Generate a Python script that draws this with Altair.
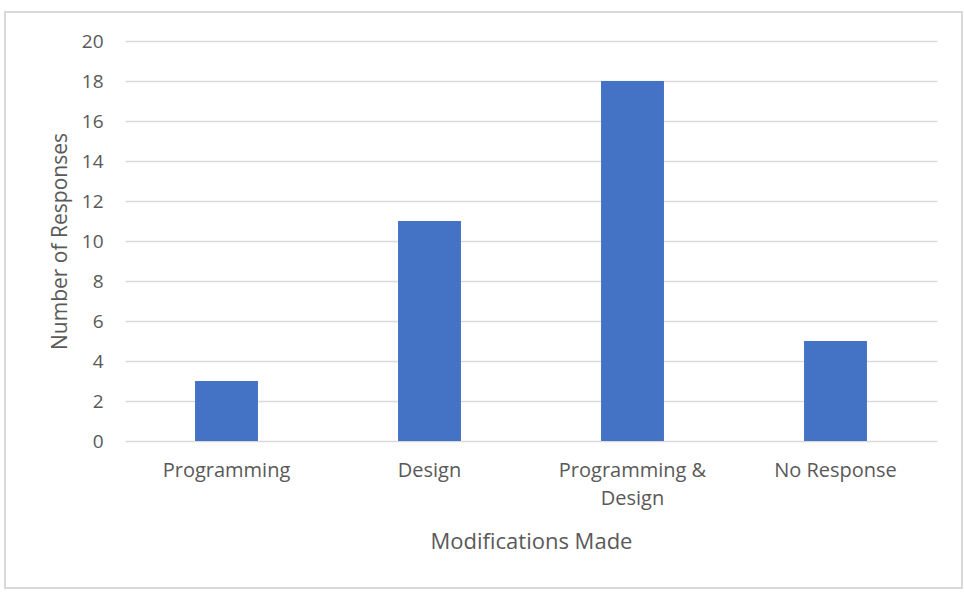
import altair as alt
import pandas as pd

categories = ["Programming", "Design", "Programming & Design", "No Response"]
responses = [3, 11, 18, 5]

df = pd.DataFrame({"category": categories, "responses": responses})

FONT = "Open Sans"
TEXT = "#595959"

# the long category name wraps onto two lines
x_labels = (
    "datum.value == 'Programming & Design' ? ['Programming &', 'Design'] : datum.value"
)

bars = alt.Chart(df).mark_bar(color="#4472C4").encode(
    x=alt.X(
        "category:N",
        sort=categories,
        scale=alt.Scale(paddingInner=0.69, paddingOuter=0.345),
        axis=alt.Axis(
            title="Modifications Made",
            labelExpr=x_labels,
            labelAngle=0,
            labelFont=FONT,
            labelFontSize=20,
            labelColor=TEXT,
            labelPadding=19,
            labelLineHeight=28,
            labelBaseline="top",
            domain=False,
            ticks=False,
            titleFont=FONT,
            titleFontSize=22,
            titleFontWeight="normal",
            titleColor=TEXT,
            titleY=100,
            titleBaseline="middle",
        ),
    ),
    y=alt.Y(
        "responses:Q",
        scale=alt.Scale(domain=[0, 20]),
        axis=alt.Axis(
            title="Number of Responses",
            values=list(range(0, 21, 2)),
            labelFont=FONT,
            labelFontSize=19,
            labelColor=TEXT,
            labelPadding=22,
            domain=False,
            ticks=False,
            gridColor="#d9d9d9",
            gridWidth=1.5,
            titleFont=FONT,
            titleFontSize=21,
            titleFontWeight="normal",
            titleColor=TEXT,
            titleX=-55,
            titleY=200,
            titleAngle=-90,
            titleBaseline="bottom",
            titleAlign="center",
        ),
    ),
)

# outer frame around the whole chart
frame = alt.Chart(df).mark_rect(
    fill=None, stroke="#d9d9d9", strokeWidth=1.5
).encode(
    x=alt.value(-120),
    x2=alt.value(837),
    y=alt.value(-29),
    y2=alt.value(547),
)

chart = (
    alt.layer(frame, bars)
    .properties(
        width=812,
        height=400,
        padding={"left": 125, "top": 41, "right": 27, "bottom": 151},
        autosize=alt.AutoSizeParams(type="none"),
        background="white",
    )
    .configure_view(stroke=None)
)

chart.save("out.html", embed_options={"renderer": "svg", "actions": False})
